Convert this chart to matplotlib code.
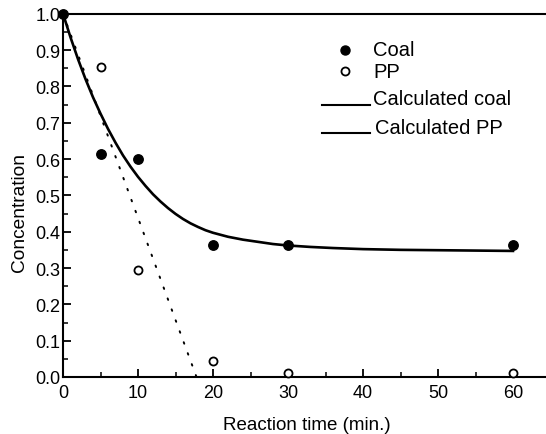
import matplotlib
matplotlib.use("Agg")
import matplotlib.pyplot as plt
from matplotlib.ticker import MultipleLocator, FormatStrFormatter

plt.rcParams['font.family'] = ['Liberation Sans', 'DejaVu Sans']

# Measured data
time_coal = [0, 5, 10, 20, 30, 60]
conc_coal = [1.0, 0.615, 0.600, 0.363, 0.362, 0.362]
time_pp = [5, 10, 20, 30, 60]
conc_pp = [0.852, 0.295, 0.045, 0.012, 0.012]

# Calculated curves
calc_coal_t = [0, 1, 2, 3, 4, 5, 6, 7, 8, 9, 10, 11, 12, 13, 14, 15, 16, 17, 18, 19, 20,
               22, 24, 26, 28, 30, 33, 36, 40, 45, 50, 55, 60]
calc_coal_c = [1.0, 0.935, 0.875, 0.82, 0.77, 0.725, 0.683, 0.645, 0.61, 0.579, 0.551, 0.526,
               0.503, 0.483, 0.465, 0.449, 0.435, 0.423, 0.413, 0.404, 0.397,
               0.386, 0.378, 0.372, 0.366, 0.362, 0.358, 0.355, 0.352, 0.350, 0.349, 0.348, 0.347]
calc_pp_t = [0, 17.8]
calc_pp_c = [1.0, 0.0]

legend_labels = ["Coal", "PP", "Calculated coal", "Calculated PP"]

fig = plt.figure(figsize=(5.46, 4.35), dpi=100)
ax = fig.add_axes([63/546, 57/435, 487.5/546, 363.3/435])

ax.plot(calc_coal_t, calc_coal_c, color='black', lw=1.9, solid_joinstyle='round')
ax.plot(calc_pp_t, calc_pp_c, color='black', lw=1.4, linestyle=(0, (0.8, 5.2)),
        dash_capstyle='round')
ax.plot(time_coal, conc_coal, 'o', color='black', ms=6.8, clip_on=False, zorder=5)
ax.plot(time_pp, conc_pp, 'o', mfc='white', mec='black', mew=1.3, ms=5.8,
        clip_on=False, zorder=5)

ax.set_xlim(0, 65)
ax.set_ylim(0, 1.0)
ax.xaxis.set_major_locator(MultipleLocator(10))
ax.xaxis.set_minor_locator(MultipleLocator(5))
ax.yaxis.set_major_locator(MultipleLocator(0.1))
ax.yaxis.set_minor_locator(MultipleLocator(0.05))
ax.yaxis.set_major_formatter(FormatStrFormatter('%.1f'))

ax.tick_params(which='major', direction='in', length=6, width=1.3, labelsize=13)
ax.tick_params(which='minor', direction='in', length=3.5, width=1.1)
ax.tick_params(axis='x', which='major', pad=5)
ax.tick_params(axis='y', which='major', pad=2)
for s in ax.spines.values():
    s.set_linewidth(1.5)
ax.spines['right'].set_visible(False)

ax.set_xlabel("Reaction time (min.)", fontsize=13.5, labelpad=11)
ax.set_ylabel("Concentration", fontsize=13.8)
ax.yaxis.set_label_coords(-0.071, 0.455)

# Legend drawn manually in figure pixel coordinates
def fy(py):
    return 1 - py / 435
def fx(px):
    return px / 546

fig.lines.append(plt.Line2D([fx(345)], [fy(51)], marker='o', color='black', ms=6.5,
                            transform=fig.transFigure))
fig.lines.append(plt.Line2D([fx(345)], [fy(72)], marker='o', mfc='white', mec='black',
                            mew=1.3, ms=5.8, transform=fig.transFigure))
fig.lines.append(plt.Line2D([fx(322), fx(370)], [fy(106), fy(106)], color='black', lw=1.5,
                            transform=fig.transFigure))
fig.lines.append(plt.Line2D([fx(322), fx(370)], [fy(134), fy(134)], color='black', lw=1.5,
                            transform=fig.transFigure))
text_pos = [(373, 51), (373, 72), (373, 100), (375, 128)]
for lab, (px, py) in zip(legend_labels, text_pos):
    fig.text(fx(px), fy(py), lab, fontsize=14.5, va='center', ha='left')

fig.savefig("out.png", dpi=100)
